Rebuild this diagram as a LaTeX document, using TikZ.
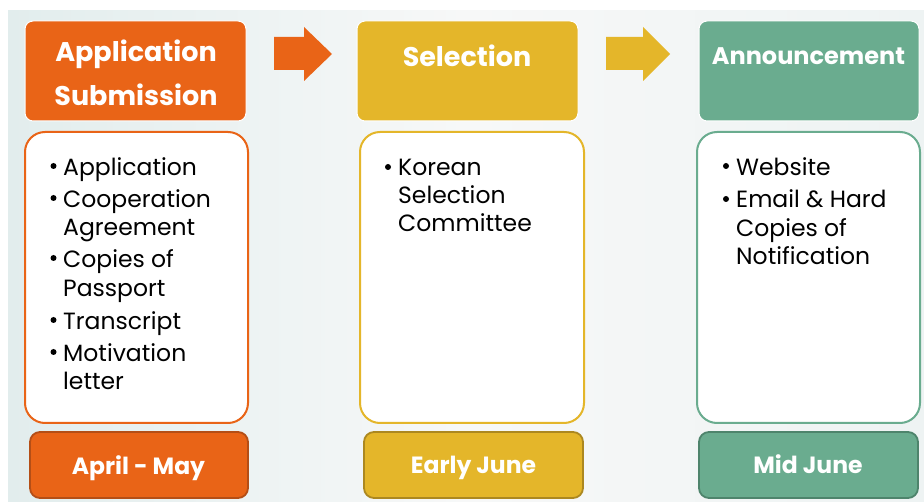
\documentclass[tikz,border=0pt]{standalone}
\usepackage{fontspec}
\setmainfont{Poppins}
\definecolor{cOr}{RGB}{233,100,23}
\definecolor{cOrD}{RGB}{180,78,22}
\definecolor{cGo}{RGB}{228,182,42}
\definecolor{cGoD}{RGB}{172,136,32}
\definecolor{cGr}{RGB}{106,172,143}
\definecolor{cGrD}{RGB}{78,132,108}
\definecolor{bgL}{RGB}{226,237,237}
\definecolor{bgM}{RGB}{247,248,248}
\definecolor{bgR}{RGB}{238,243,243}
\begin{document}
\begin{tikzpicture}[x=1pt,y=-1pt,
  head/.style={rounded corners=8pt, draw=white, line width=1pt, inner sep=0pt},
  content/.style={rounded corners=20pt, fill=white, line width=2pt, inner sep=0pt},
  datebox/.style={rounded corners=10pt, line width=1.8pt, inner sep=0pt},
  htext/.style={text=white, font=\fontsize{27}{27}\selectfont\bfseries, anchor=base, inner sep=0pt},
  dtext/.style={text=white, font=\fontsize{23.5}{23.5}\selectfont\bfseries, anchor=base, inner sep=0pt},
  btext/.style={text=black, font=\fontsize{23.5}{23.5}\selectfont, anchor=base west, inner sep=0pt},
  bul/.style={fill=black}]
\useasboundingbox (0,0) rectangle (924,502);
\fill[white] (0,0) rectangle (924,502);
\shade[left color=bgL, right color=bgR, middle color=bgM] (8,11) rectangle (924,502);
% arrows
\fill[cOr] (274,37) -- (304,37) -- (304,27) -- (332,54) -- (304,81) -- (304,70) -- (274,70) -- cycle;
\fill[cGo] (606,37) -- (643,37) -- (643,27) -- (670,54) -- (643,81) -- (643,70) -- (606,70) -- cycle;
% column 1
\node[head, fill=cOr, minimum width=221pt, minimum height=100pt] (h1) at (135.5,71) {};
\node[content, draw=cOr, minimum width=223pt, minimum height=291pt] (c1) at (136.5,277.5) {};
\node[datebox, fill=cOr, draw=cOrD, minimum width=218pt, minimum height=66pt] (d1) at (139,465) {};
\node[htext] (h1a) at (136,62) {Application};
\node[htext] (h1b) at (136,106) {Submission};
\node[dtext] (d1t) at (138.5,475) {April - May};
% column 2
\node[head, fill=cGo, minimum width=221pt, minimum height=100pt] (h2) at (467.5,71) {};
\node[content, draw=cGo, minimum width=224pt, minimum height=291pt] (c2) at (472,277.5) {};
\node[datebox, fill=cGo, draw=cGoD, minimum width=219pt, minimum height=66pt] (d2) at (473.5,465) {};
\node[htext] (h2a) at (467,67) {Selection};
\node[dtext] (d2t) at (473.5,473) {Early June};
% column 3
\node[head, fill=cGr, minimum width=220pt, minimum height=100pt] (h3) at (809,71) {};
\node[content, draw=cGr, minimum width=223pt, minimum height=291pt] (c3) at (808.5,277.5) {};
\node[datebox, fill=cGr, draw=cGrD, minimum width=219pt, minimum height=66pt] (d3) at (808.5,465) {};
\node[htext, font=\fontsize{24}{24}\selectfont\bfseries] (h3a) at (808.5,65) {Announcement};
\node[dtext] (d3t) at (808,474) {Mid June};
% bullets col 1
\foreach \y in {166,198,258,320,352} \fill[bul] (53.5,\y) circle (3pt);
\node[btext] (t11) at (63,176) {Application};
\node[btext] (t12) at (63,208) {Cooperation};
\node[btext] (t13) at (63,236) {Agreement};
\node[btext] (t14) at (63,268) {Copies of};
\node[btext] (t15) at (63,297) {Passport};
\node[btext] (t16) at (63,330) {Transcript};
\node[btext] (t17) at (63,362) {Motivation};
\node[btext] (t18) at (63,390) {letter};
% col 2
\fill[bul] (388,167) circle (3pt);
\node[btext] (t21) at (398,176) {Korean};
\node[btext] (t22) at (398,204) {Selection};
\node[btext] (t23) at (398,232) {Committee};
% col 3
\foreach \y in {166,199} \fill[bul] (726,\y) circle (3pt);
\node[btext] (t31) at (736,176) {Website};
\node[btext] (t32) at (736,208) {Email \& Hard};
\node[btext] (t33) at (736,237) {Copies of};
\node[btext] (t34) at (736,265) {Notification};
\end{tikzpicture}
\end{document}
